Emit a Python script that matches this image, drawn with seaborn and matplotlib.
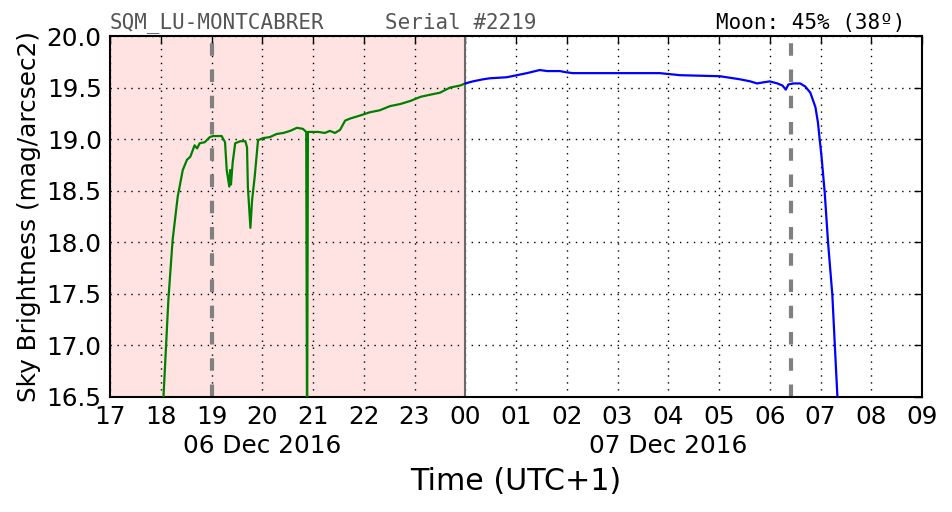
import matplotlib
matplotlib.use("Agg")
import matplotlib.pyplot as plt
import matplotlib.dates as mdates
import matplotlib.ticker as mticker
import matplotlib.transforms as mtransforms
import seaborn as sns
import pandas as pd
import numpy as np

# ---- data ----
night_times = ["2016-12-06 18:02", "2016-12-06 18:09", "2016-12-06 18:14", "2016-12-06 18:20",
               "2016-12-06 18:26", "2016-12-06 18:31", "2016-12-06 18:35", "2016-12-06 18:40",
               "2016-12-06 18:43", "2016-12-06 18:46", "2016-12-06 18:52", "2016-12-06 18:58",
               "2016-12-06 19:02", "2016-12-06 19:12", "2016-12-06 19:16", "2016-12-06 19:18",
               "2016-12-06 19:21", "2016-12-06 19:22", "2016-12-06 19:23", "2016-12-06 19:25",
               "2016-12-06 19:28", "2016-12-06 19:34", "2016-12-06 19:40", "2016-12-06 19:42",
               "2016-12-06 19:43", "2016-12-06 19:46", "2016-12-06 19:48", "2016-12-06 19:51",
               "2016-12-06 19:55", "2016-12-06 20:01", "2016-12-06 20:09", "2016-12-06 20:17",
               "2016-12-06 20:25", "2016-12-06 20:33", "2016-12-06 20:41", "2016-12-06 20:48",
               "2016-12-06 20:52", "2016-12-06 20:53", "2016-12-06 20:54", "2016-12-06 21:06",
               "2016-12-06 21:14", "2016-12-06 21:20", "2016-12-06 21:26", "2016-12-06 21:32",
               "2016-12-06 21:38", "2016-12-06 21:44", "2016-12-06 21:56", "2016-12-06 22:07",
               "2016-12-06 22:19", "2016-12-06 22:31", "2016-12-06 22:43", "2016-12-06 22:55",
               "2016-12-06 23:07", "2016-12-06 23:18", "2016-12-06 23:30", "2016-12-06 23:42",
               "2016-12-06 23:54", "2016-12-07 00:00"]
night_mag = [16.3, 17.44, 18.02, 18.44,
             18.70, 18.80, 18.83, 18.94,
             18.91, 18.96, 18.97, 19.02,
             19.03, 19.03, 18.97, 18.70,
             18.54, 18.70, 18.56, 18.77,
             18.96, 18.98, 18.98, 18.92,
             18.54, 18.14, 18.41, 18.63,
             18.99, 19.01, 19.02, 19.05,
             19.06, 19.08, 19.11, 19.10,
             19.07, 16.0, 19.07, 19.07,
             19.06, 19.08, 19.06, 19.09,
             19.18, 19.20, 19.23, 19.26,
             19.28, 19.32, 19.34, 19.37,
             19.41, 19.43, 19.45, 19.50,
             19.52, 19.54]

morning_times = ["2016-12-07 00:00", "2016-12-07 00:09", "2016-12-07 00:21", "2016-12-07 00:29",
                 "2016-12-07 00:49", "2016-12-07 01:01", "2016-12-07 01:13", "2016-12-07 01:28",
                 "2016-12-07 01:37", "2016-12-07 01:52", "2016-12-07 01:58", "2016-12-07 02:07",
                 "2016-12-07 03:27", "2016-12-07 03:50", "2016-12-07 04:14", "2016-12-07 05:01",
                 "2016-12-07 05:25", "2016-12-07 05:37", "2016-12-07 05:45", "2016-12-07 05:52",
                 "2016-12-07 06:00", "2016-12-07 06:09", "2016-12-07 06:15", "2016-12-07 06:19",
                 "2016-12-07 06:22", "2016-12-07 06:28", "2016-12-07 06:36", "2016-12-07 06:42",
                 "2016-12-07 06:48", "2016-12-07 06:54", "2016-12-07 06:57", "2016-12-07 06:59",
                 "2016-12-07 07:01", "2016-12-07 07:05", "2016-12-07 07:09", "2016-12-07 07:14",
                 "2016-12-07 07:17", "2016-12-07 07:20", "2016-12-07 07:22"]
morning_mag = [19.54, 19.56, 19.58, 19.59,
               19.60, 19.62, 19.64, 19.67,
               19.66, 19.66, 19.65, 19.64,
               19.64, 19.64, 19.62, 19.61,
               19.58, 19.56, 19.54, 19.55,
               19.56, 19.54, 19.52, 19.48,
               19.53, 19.54, 19.54, 19.51,
               19.45, 19.31, 19.16, 19.00,
               18.85, 18.48, 17.99, 17.49,
               16.99, 16.50, 16.30]

x_start = "2016-12-06 17:00"
x_end = "2016-12-07 09:00"
shade_start = "2016-12-06 17:00"
shade_end = "2016-12-07 00:00"
event_lines = ["2016-12-06 19:00", "2016-12-07 06:25"]
midnight = "2016-12-07 00:00"
y_min, y_max = 16.5, 20.0
date_label_pos = ["2016-12-06 20:00", "2016-12-07 04:00"]
date_label_text = ["06 Dec 2016", "07 Dec 2016"]

title_left = "SQM_LU-MONTCABRER"
title_mid = "Serial #2219"
title_right = "Moon: 45% (38º)"
xlabel = "Time (UTC+1)"
ylabel = "Sky Brightness (mag/arcsec2)"

# ---- build frames ----
df_night = pd.DataFrame({"time": pd.to_datetime(night_times), "mag": night_mag})
df_morning = pd.DataFrame({"time": pd.to_datetime(morning_times), "mag": morning_mag})

sns.set_style("white")
plt.rcParams["font.family"] = ["DejaVu Sans"]
plt.rcParams["text.color"] = "black"
plt.rcParams["axes.labelcolor"] = "black"

fig = plt.figure(figsize=(9.52, 5.12), dpi=100)
ax = fig.add_axes([110 / 952, 1 - 397 / 512, 812 / 952, 361 / 512])

ax.axvspan(pd.Timestamp(shade_start), pd.Timestamp(shade_end), color=(1.0, 0.89, 0.89), zorder=0, lw=0)

sns.lineplot(data=df_night, x="time", y="mag", ax=ax, color=(0, 0.5, 0), lw=1.6, sort=False, zorder=3)
sns.lineplot(data=df_morning, x="time", y="mag", ax=ax, color=(0, 0, 1), lw=1.6, sort=False, zorder=3)

for t in event_lines:
    ax.axvline(pd.Timestamp(t), color="gray", lw=3, ls=(0, (3, 3.3)), zorder=2)
ax.axvline(pd.Timestamp(midnight), color="dimgray", lw=1.5, zorder=2)

ax.set_xlim(pd.Timestamp(x_start), pd.Timestamp(x_end))
ax.set_ylim(y_min, y_max)

ax.xaxis.set_major_locator(mdates.HourLocator())
ax.xaxis.set_major_formatter(mdates.DateFormatter("%H"))
ax.yaxis.set_major_locator(mticker.MultipleLocator(0.5))
ax.yaxis.set_major_formatter(mticker.FormatStrFormatter("%.1f"))

ax.grid(True, color="black", ls=(0, (1, 4)), lw=1.0)
ax.tick_params(axis="both", which="major", direction="in", top=True, right=True,
               length=6, width=1, labelsize=17.8, pad=6, colors="black")
for s in ax.spines.values():
    s.set_linewidth(1.5)
    s.set_color("black")
    s.set_visible(True)

# date row under the hour labels
trans = mtransforms.blended_transform_factory(ax.transData, ax.transAxes)
offset = mtransforms.ScaledTranslation(0, -26.5 / 72, fig.dpi_scale_trans)
for pos, txt in zip(date_label_pos, date_label_text):
    ax.text(mdates.date2num(pd.Timestamp(pos)), 0, txt, transform=trans + offset,
            fontsize=17.8, ha="center", va="top", color="black")

ax.set_xlabel(xlabel, fontsize=21.7, labelpad=27, color="black")
ax.set_ylabel(ylabel, fontsize=17.8, labelpad=4, color="black")

ax.text(0.0, 1.008, title_left, transform=ax.transAxes, family="DejaVu Sans Mono",
        fontsize=15, color="#555555", ha="left", va="bottom")
ax.text(0.339, 1.008, title_mid, transform=ax.transAxes, family="DejaVu Sans Mono",
        fontsize=15, color="#555555", ha="left", va="bottom")
ax.text(0.98, 1.008, title_right, transform=ax.transAxes, family="DejaVu Sans Mono",
        fontsize=15, color="black", ha="right", va="bottom")

if ax.get_legend() is not None:
    ax.get_legend().remove()

fig.savefig("out.png", dpi=100)
